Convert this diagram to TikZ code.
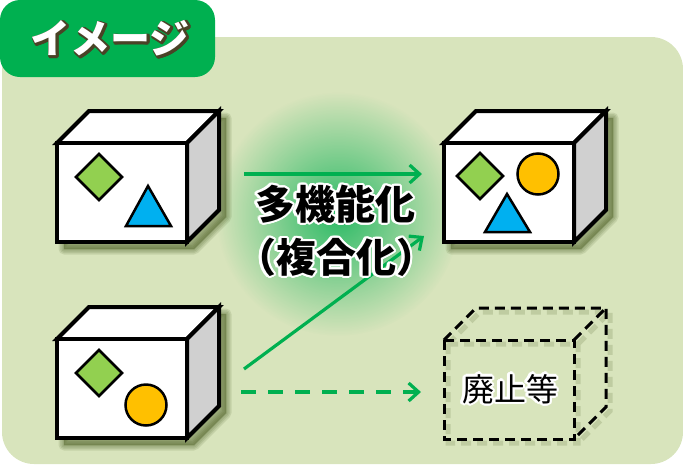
\documentclass[tikz,border=0pt]{standalone}
\usepackage{fontspec}
\newfontfamily\jp{Noto Sans CJK JP}
\usetikzlibrary{arrows.meta,calc,fadings}
\definecolor{bg}{HTML}{D8E4BC}
\definecolor{tabgreen}{HTML}{00B050}
\definecolor{leaf}{HTML}{92D050}
\definecolor{sky}{HTML}{00B0F0}
\definecolor{amber}{HTML}{FFC000}
\definecolor{sidegray}{HTML}{D0D0D0}
\definecolor{shadowc}{HTML}{4F6228}
\definecolor{outl}{HTML}{4A4226}
\tikzfading[name=glowfade, inner color=transparent!20, outer color=transparent!100]
\tikzset{
  edge/.style={line width=4pt, draw=black},
  shapeline/.style={line width=2.5pt, draw=black},
  flow/.style={draw=tabgreen, line width=3.2pt, -{Straight Barb[length=10pt,width=18pt]}},
  dashflow/.style={flow, dash pattern=on 15pt off 12pt},
  ghost/.style={line width=3pt, dash pattern=on 10pt off 6pt},
}
\newcommand\cubeat[3]{%
  \begin{scope}[shift={(#2,#3)}]
    \foreach \w in {11,8,5,2}{
      \filldraw[shadowc, opacity=0.14, line width=\w pt, line join=round]
        (7,106) -- (7,7) -- (39,-25) -- (169,-25) -- (169,74) -- (137,106) -- cycle;}
    \filldraw[edge, fill=white] (0,0) -- (32,-32) -- (162,-32) -- (130,0) -- cycle;
    \filldraw[edge, fill=sidegray] (130,0) -- (162,-32) -- (162,67) -- (130,99) -- cycle;
    \filldraw[edge, fill=white] (0,0) rectangle (130,99);
    \coordinate (#1) at (65,50);
  \end{scope}}
\newcommand\halo[6]{% name, position, font, halo colour, text colour, text
  \foreach \a in {0,22.5,...,337.5}{
    \node[font=#3, text=#4, inner sep=0pt] at ($#2+(\a:2.2pt)$) {#6};}
  \node[font=#3, text=#5, inner sep=0pt] (#1) at #2 {#6};}
\begin{document}
\begin{tikzpicture}[x=1pt,y=-1pt]
\useasboundingbox (0,0) rectangle (683,464);
% background
\fill[bg, rounded corners=32pt] (2,37) rectangle (683,464);
\fill[tabgreen, rounded corners=20pt] (0,0) rectangle (215,77);
% title
\foreach \a in {0,30,...,330}{
  \node[font=\jp\bfseries\fontsize{40}{40}\selectfont, text=outl, inner sep=0pt] at ($(110,38)+(\a:1.6pt)+(1.5,1.5)$) {イメージ};}
\node[font=\jp\bfseries\fontsize{40}{40}\selectfont, text=white, inner sep=0pt] (title) at (110,38) {イメージ};
% glow
\fill[tabgreen, path fading=glowfade] (338,214) circle (122pt);
% cubes
\cubeat{c1}{57}{143}
\filldraw[shapeline, fill=leaf] (99,154) -- (122,177) -- (99,200) -- (76,177) -- cycle;
\filldraw[shapeline, fill=sky] (148,186) -- (171,226) -- (126,226) -- cycle;
\cubeat{c2}{57}{339}
\filldraw[shapeline, fill=leaf] (99,350) -- (122,373) -- (99,396) -- (76,373) -- cycle;
\filldraw[shapeline, fill=amber] (146,405) circle (20.5pt);
\cubeat{c3}{444}{143}
\filldraw[shapeline, fill=leaf] (480,153) -- (503,176) -- (480,199) -- (457,176) -- cycle;
\filldraw[shapeline, fill=amber] (538,174) circle (20.5pt);
\filldraw[shapeline, fill=sky] (507,194) -- (530,232) -- (485,232) -- cycle;
% dashed cube
\begin{scope}[shift={(444,340)}]
  \draw[ghost, shadowc, opacity=0.18, line width=5pt, shift={(4,4)}]
    (0,0) rectangle (130,99) (0,0) -- (32,-32) -- (162,-32) -- (162,67) -- (130,99) (130,0) -- (162,-32);
  \draw[ghost] (0,0) rectangle (130,99);
  \draw[ghost] (0,0) -- (32,-32) -- (162,-32) -- (162,67) -- (130,99);
  \draw[ghost] (130,0) -- (162,-32);
  \coordinate (c4) at (65,50);
\end{scope}
% arrows
\coordinate (a1s) at (244,174); \coordinate (a1e) at (422,174);
\coordinate (a2s) at (244,369); \coordinate (a2e) at (424,236);
\coordinate (a3s) at (241,392); \coordinate (a3e) at (421,392);
\draw[flow] (a1s) -- (a1e);
\draw[flow] (a2s) -- (a2e);
\draw[dashflow] (a3s) -- (a3e);
% texts
\halo{t1}{(335,204)}{\jp\bfseries\fontsize{40}{40}\selectfont}{white}{black}{多機能化}
\halo{t2}{(336,257)}{\jp\bfseries\fontsize{40}{40}\selectfont}{white}{black}{（複合化）}
\halo{t3}{(510,389)}{\jp\fontsize{32}{32}\selectfont}{white}{black}{廃止等}
\end{tikzpicture}
\end{document}
